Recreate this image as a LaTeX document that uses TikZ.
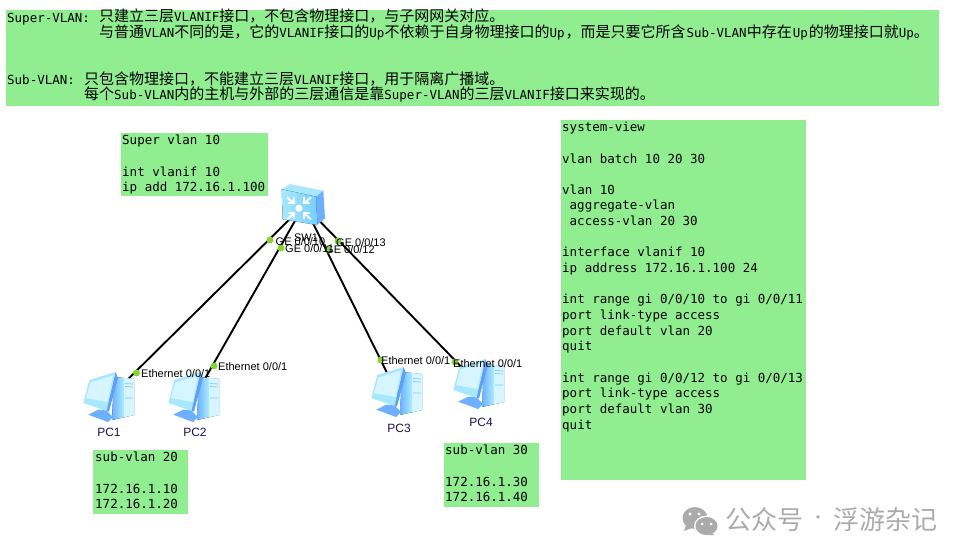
\documentclass[tikz,border=0pt]{standalone}
\usepackage{fontspec}
\usetikzlibrary{arrows.meta}
\setmainfont{Liberation Sans}
\newfontfamily\monof{DejaVu Sans Mono}
\newfontfamily\cjkf{Noto Sans CJK SC}
\newcommand\zh[1]{{\fontsize{15}{15}\selectfont\cjkf #1}}
\definecolor{boxgreen}{HTML}{90EE90}
\definecolor{dotgreen}{HTML}{86D42F}
\definecolor{pclabel}{HTML}{1A1050}
\definecolor{wmgray}{HTML}{ABABAB}
\definecolor{iconpale}{HTML}{D6F5FF}
\definecolor{iconlight}{HTML}{A8E8FF}
\definecolor{iconmid}{HTML}{75CFFF}
\definecolor{iconblue}{HTML}{6CB0FF}
\definecolor{icondeep}{HTML}{5F9FF5}
\tikzset{
  greenbox/.style={fill=boxgreen,draw=none,inner sep=0,outer sep=0,anchor=north west},
  monotext/.style={inner sep=0,anchor=north west,align=left,font=\monof\fontsize{12.5}{15.65}\selectfont},
  headline/.style={inner sep=0,anchor=base west,font=\monof\fontsize{12.5}{15}\selectfont},
  portdot/.style={circle,fill=dotgreen,draw=none,minimum size=7pt,inner sep=0},
  portlabel/.style={inner sep=0,anchor=west,font=\fontsize{11}{13}\selectfont},
  pcname/.style={inner sep=0,text=pclabel,font=\fontsize{12}{14}\selectfont},
  link/.style={line width=1.9pt,black},
  hub/.style={inner sep=0,minimum size=1pt},
  watermark/.style={inner sep=0,text=wmgray,font=\cjkf\fontsize{26}{27}\selectfont},
  pics/pcicon/.style={code={
    % tower
    \fill[left color=iconblue,right color=iconpale,middle color=iconlight] (5,-21) -- (25,-19) -- (25,17) -- (3,22) -- cycle;
    \fill[iconpale] (15,-20) -- (25,-19) -- (25,17) -- (15,19) -- cycle;
    \draw[line width=.7pt,iconmid] (16,-14.5) -- (24,-14) (16,-11.5) -- (24,-11) (16,0) -- (24,0);
    % base
    \fill[iconblue] (-20.7,16.7) -- (-10.7,11.7) -- (-3,12) -- (4,19) -- (-1,24) -- cycle;
    % monitor
    \fill[icondeep] (6.5,-26) -- (9,-20) -- (0,13.5) -- (-3,13) -- cycle;
    \fill[iconlight] (-19.7,-18) -- (6.5,-26) -- (-2.5,13) -- (-25.7,5) -- cycle;
    \fill[iconpale] (-18.5,-15.5) -- (4,-22.5) -- (-1.5,4) -- (-23,0) -- cycle;
  }}
}
\begin{document}
\begin{tikzpicture}[x=1pt,y=-1pt]
\useasboundingbox (0,0) rectangle (969,559);
% header
\node[greenbox,minimum width=933pt,minimum height=96pt] (header) at (6,10) {};
\node[headline] (h1) at (7,23) {Super-VLAN: };
\node[headline] (h1b) at (99,22) {\zh{只建立三层}VLANIF\zh{接口，不包含物理接口，与子网网关对应。}};
\node[headline] (h2) at (99,37.5) {\zh{与普通}VLAN\zh{不同的是，它的}VLANIF\zh{接口的}Up\zh{不依赖于自身物理接口的}Up\kern1pt\zh{，而是只要它所含}\kern1pt Sub-VLAN\zh{中存在}\kern1pt Up\kern1pt\zh{的物理接口就}Up\zh{。}};
\node[headline] (h3) at (7,85) {Sub-VLAN: };
\node[headline] (h3b) at (84,85) {\zh{只包含物理接口，不能建立三层}VLANIF\zh{接口，用于隔离广播域。}};
\node[headline] (h4) at (84,100) {\zh{每个}Sub-VLAN\zh{内的主机与外部的三层通信是靠}Super-VLAN\zh{的三层}VLANIF\zh{接口来实现的。}};
% green boxes
\node[greenbox,minimum width=147pt,minimum height=63pt] (superbox) at (121,133) {};
\node[monotext] (supertxt) at (122,135) {Super vlan 10\\~\\int vlanif 10\\ip add 172.16.1.100};
\node[greenbox,minimum width=95pt,minimum height=64pt] (sub20box) at (93,450) {};
\node[monotext] (sub20txt) at (95,452) {sub-vlan 20\\~\\172.16.1.10\\172.16.1.20};
\node[greenbox,minimum width=95pt,minimum height=64pt] (sub30box) at (444,443) {};
\node[monotext] (sub30txt) at (445,445) {sub-vlan 30\\~\\172.16.1.30\\172.16.1.40};
\node[greenbox,minimum width=245pt,minimum height=360pt] (cfgbox) at (561,120) {};
\node[monotext] (cfgtxt) at (562,122) {system-view\\~\\vlan batch 10 20 30\\~\\vlan 10\\\hspace*{7.5pt}aggregate-vlan\\\hspace*{7.5pt}access-vlan 20 30\\~\\interface vlanif 10\\ip address 172.16.1.100 24\\~\\int range gi 0/0/10 to gi 0/0/11\\port link-type access\\port default vlan 20\\quit\\~\\int range gi 0/0/12 to gi 0/0/13\\port link-type access\\port default vlan 30\\quit};
% device anchors
\node[hub] (sw) at (304,205) {};
\node[hub] (pc1) at (109,398) {};
\node[hub] (pc2) at (194,398) {};
\node[hub] (pc3) at (397,393) {};
\node[hub] (pc4) at (479,385) {};
% links
\draw[link] (sw.center) -- (pc1.center);
\draw[link] (sw.center) -- (pc2.center);
\draw[link] (sw.center) -- (pc3.center);
\draw[link] (sw.center) -- (pc4.center);
% switch
\fill[iconlight] (281.7,189.3) -- (290,184) -- (323.3,190.7) -- (316,196.7) -- cycle;
\fill[iconblue] (316,196.7) -- (323.3,190.7) -- (325,218.3) -- (317.3,225) -- cycle;
\fill[left color=iconlight,right color=iconmid] (281.7,189.3) -- (316,196.7) -- (317.3,225) -- (282.7,219.3) -- cycle;
\fill[white] (299,208.3) circle (3.6);
\foreach \sx/\sy in {-1/-1,1/-1,-1/1,1/1}{
  \draw[white,line width=1.9pt] (299+12*\sx,208.3+11*\sy) -- (299+5*\sx,208.3+5*\sy);
  \draw[white,line width=1.9pt] (299+11*\sx,208.3+5*\sy) -- (299+5*\sx,208.3+5*\sy) -- (299+5*\sx,208.3+11*\sy);
}
% pcs
\pic at (pc1) {pcicon};
\pic at (pc2) {pcicon};
\pic at (pc3) {pcicon};
\pic at (pc4) {pcicon};
\node[pcname] (n1) at (109,432) {PC1};
\node[pcname] (n2) at (195,432) {PC2};
\node[pcname] (n3) at (399,428) {PC3};
\node[pcname] (n4) at (481,422) {PC4};
% port dots
\node[portdot] (d1) at (270,240) {};
\node[portdot] (d2) at (281,248) {};
\node[portdot] (d3) at (328,250) {};
\node[portdot] (d4) at (338,241) {};
\node[portdot] (e1) at (136.5,373) {};
\node[portdot] (e2) at (214,366) {};
\node[portdot] (e3) at (381,360) {};
\node[portdot] (e4) at (455,362) {};
% labels
\node[inner sep=0,font=\fontsize{11}{13}\selectfont] (swname) at (306,238) {SW1};
\node[portlabel] (l1) at (275.5,242) {GE 0/0/10};
\node[portlabel] (l2) at (285,249) {GE 0/0/11};
\node[portlabel] (l3) at (325,250) {GE 0/0/12};
\node[portlabel] (l4) at (336,243) {GE 0/0/13};
\node[portlabel] (m1) at (141,374) {Ethernet 0/0/1};
\node[portlabel] (m2) at (218,367) {Ethernet 0/0/1};
\node[portlabel] (m3) at (381,361) {Ethernet 0/0/1};
\node[portlabel] (m4) at (453,364) {Ethernet 0/0/1};
% watermark
\fill[wmgray] (695,518) ellipse (12.5 and 11);
\fill[wmgray] (686,525) -- (684,531) -- (692,528) -- cycle;
\fill[white] (706.5,526) ellipse (12.5 and 10.5);
\fill[wmgray] (706.5,526) ellipse (11 and 9);
\fill[wmgray] (712,533) -- (714,535) -- (708,535) -- cycle;
\fill[white] (690,514) circle (1.7) (699,514) circle (1.7) (702,524) circle (1.5) (711,524) circle (1.5);
\node[watermark,anchor=west] (wm1) at (725,520) {公众号};
\node[watermark,font=\cjkf\fontsize{16}{17}\selectfont] (wm2) at (818,520) {·};
\node[watermark,anchor=west] (wm3) at (833,520) {浮游杂记};
\end{tikzpicture}
\end{document}
